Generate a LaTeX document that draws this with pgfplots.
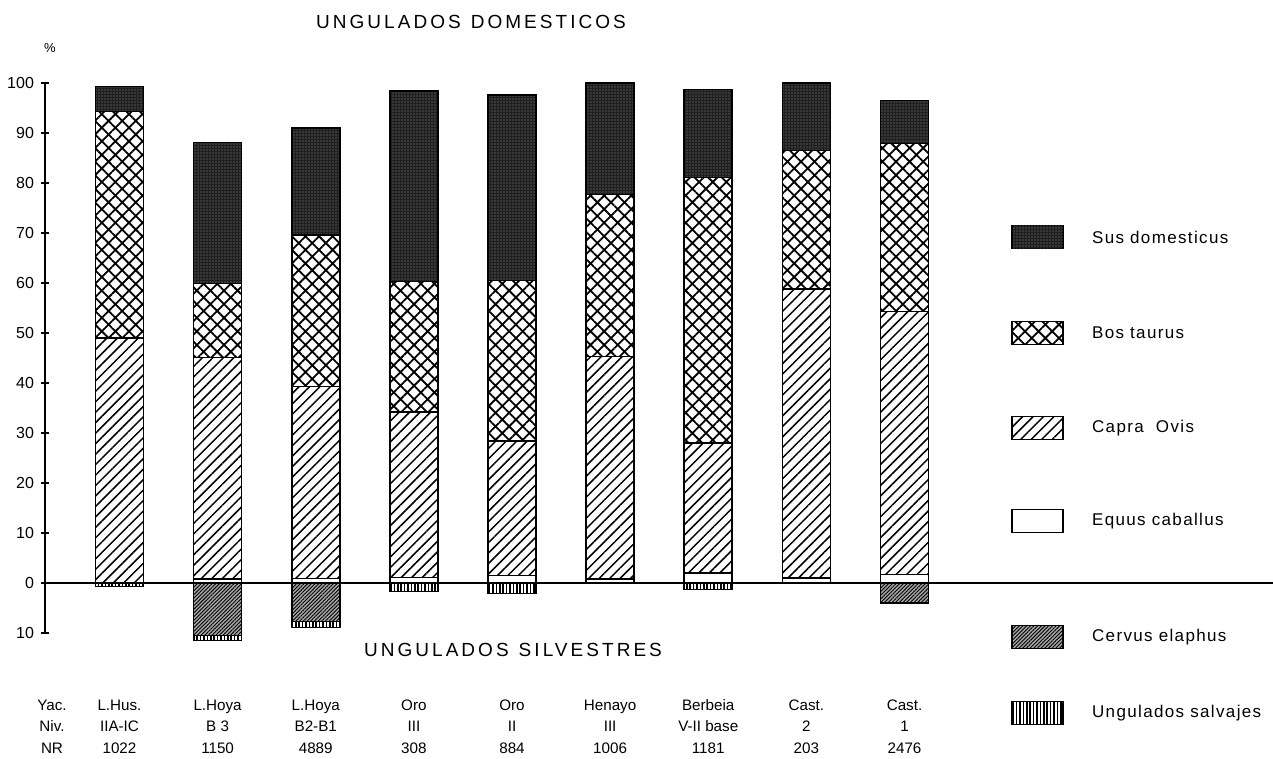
\documentclass[border=0pt]{standalone}
\usepackage{fontspec}
\setmainfont{Liberation Sans}
\newfontfamily\titlefont{Liberation Sans}[LetterSpace=16]
\newfontfamily\legfont{Liberation Sans}[LetterSpace=8]
\usepackage{pgfplots}
\pgfplotsset{compat=1.18}
\usetikzlibrary{patterns,patterns.meta}

\tikzset{
  sus/.style={fill=black!88, postaction={pattern={Dots[distance=1.5pt,radius=0.35pt]}, pattern color=black!45}},
  bos/.style={fill=white, postaction={pattern={Hatch[angle=45,distance=4.8pt,line width=0.9pt]}, pattern color=black}},
  capra/.style={fill=white, postaction={pattern={Lines[angle=45,distance=3.7pt,line width=0.75pt]}, pattern color=black}},
  equus/.style={fill=white},
  cervus/.style={fill=black!35, postaction={pattern={Lines[angle=45,distance=1.3pt,line width=0.45pt]}, pattern color=black}},
  salv/.style={fill=white, postaction={pattern={Lines[angle=90,distance=1.7pt,line width=0.75pt]}, pattern color=black}},
  legbox/.style={draw=black, line width=0.8pt, minimum width=25.5pt, minimum height=11.5pt, inner sep=0pt},
  legtext/.style={anchor=west, font=\legfont\fontsize{8.5}{10}\selectfont},
  tab/.style={anchor=base, font=\fontsize{7.6}{9}\selectfont},
}

\pgfplotsset{
  common/.style={
    scale only axis, width=614pt, height=275pt,
    at={(22.5pt,-316.5pt)}, anchor=south west,
    xmin=0.241, xmax=12.755, ymin=-10, ymax=100,
    ybar stacked, bar width=0.489,
    every axis plot/.append style={draw=black, line width=0.8pt},
    clip=false,
  },
}

\begin{document}
\begin{tikzpicture}[x=0.5pt,y=-0.5pt]
\useasboundingbox (0,0) rectangle (1273,759);

% domestic ungulates, stacked upwards
\begin{axis}[
    common,
    axis x line*=middle, axis y line*=left,
    hide obscured y ticks=false,
    axis line style={line width=0.8pt},
    xtick=\empty,
    ytick={-10,0,10,20,30,40,50,60,70,80,90,100},
    yticklabels={10,0,10,20,30,40,50,60,70,80,90,100},
    tick align=center, major tick length=4pt,
    tick style={line width=0.8pt, black},
    yticklabel style={font=\fontsize{8}{9}\selectfont},
    /pgf/number format/assume math mode=true,
  ]
  \addplot[equus] coordinates {(1,0) (2,0.8) (3,0.9) (4,1.1) (5,1.5) (6,0.8) (7,2.0) (8,1.0) (9,1.7)};
  \addplot[capra] coordinates {(1,49.0) (2,44.3) (3,38.4) (4,33.1) (5,26.9) (6,44.5) (7,26.0) (8,57.8) (9,52.6)};
  \addplot[bos] coordinates {(1,45.3) (2,14.8) (3,30.3) (4,26.1) (5,32.1) (6,32.4) (7,53.1) (8,27.7) (9,33.6)};
  \addplot[sus] coordinates {(1,5.0) (2,28.2) (3,21.4) (4,38.1) (5,37.1) (6,22.3) (7,17.6) (8,13.5) (9,8.6)};
\end{axis}

% wild ungulates, stacked downwards
\begin{axis}[common, axis lines=none]
  \addplot[cervus] coordinates {(1,0) (2,-10.5) (3,-7.7) (4,0) (5,0) (6,0) (7,0) (8,0) (9,-4.0)};
  \addplot[salv] coordinates {(1,-0.7) (2,-1.0) (3,-1.2) (4,-1.7) (5,-2.1) (6,0) (7,-1.3) (8,0) (9,0)};
\end{axis}

% table under the bars
\foreach \xx/\a/\b/\c in {52/Yac./Niv./NR, 119.5/L.Hus./IIA-IC/1022, 217.6/L.Hoya/B 3/1150,
    315.75/L.Hoya/B2-B1/4889, 413.9/Oro/III/308, 512/Oro/II/884, 610.1/Henayo/III/1006,
    708.25/Berbeia/V-II base/1181, 806.4/Cast./2/203, 904.5/Cast./1/2476} {
  \node[tab] at (\xx,710) {\a};
  \node[tab] at (\xx,731) {\b};
  \node[tab] at (\xx,753) {\c};
}

\node[font=\titlefont\fontsize{9.5}{11}\selectfont] at (471,22) {UNGULADOS\hspace{5pt}DOMESTICOS};
\node[font=\titlefont\fontsize{9.5}{11}\selectfont] at (513,650) {UNGULADOS\hspace{5pt}SILVESTRES};
\node[font=\fontsize{6.5}{8}\selectfont] at (50,48) {\%};

% legend
\node[legbox, sus] at (1037.5,237) {};
\node[legtext] at (1085,237) {Sus domesticus};
\node[legbox, bos] at (1037.5,333) {};
\node[legtext] at (1085,333) {Bos taurus};
\node[legbox, capra] at (1037.5,428) {};
\node[legtext] at (1085,428) {Capra\ \ Ovis};
\node[legbox, equus] at (1037.5,521) {};
\node[legtext] at (1085,521) {Equus caballus};
\node[legbox, cervus] at (1037.5,637) {};
\node[legtext] at (1085,637) {Cervus elaphus};
\node[legbox, salv] at (1037.5,713) {};
\node[legtext] at (1085,713) {Ungulados salvajes};
\end{tikzpicture}
\end{document}
